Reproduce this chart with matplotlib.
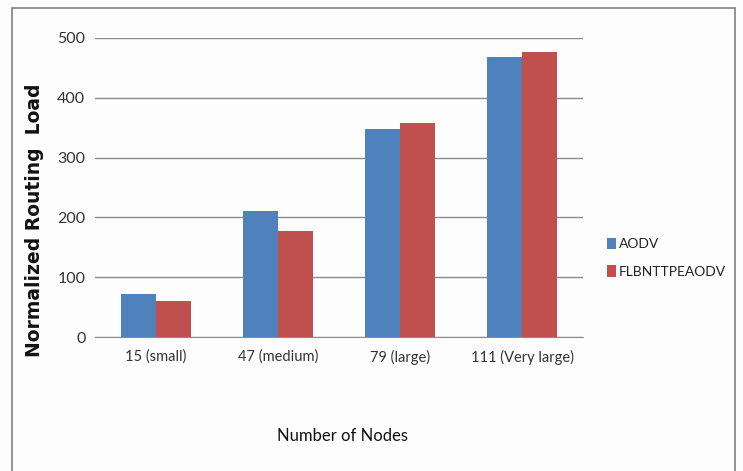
import matplotlib
matplotlib.use("Agg")
import matplotlib.pyplot as plt
import numpy as np

categories = ["15 (small)", "47 (medium)", "79 (large)", "111 (Very large)"]
aodv = [72, 210, 348, 468]
flb = [60, 178, 358, 477]
series_names = ["AODV", "FLBNTTPEAODV"]
yticks = [0, 100, 200, 300, 400, 500]

font = "Lato"

fig = plt.figure(figsize=(7.43, 4.71), dpi=100)
fig.patch.set_facecolor("#fdfdfd")
ax = fig.add_axes([0.128, 0.2845, 0.657, 0.635])
ax.set_facecolor("#fdfdfd")

x = np.arange(len(categories))
w = 1 / 3.5
ax.bar(x - w / 2, aodv, w, color="#4f81bd", label=series_names[0], zorder=3)
ax.bar(x + w / 2, flb, w, color="#c0504d", label=series_names[1], zorder=3)

ax.set_xlim(-0.5, len(categories) - 0.5)
ax.set_ylim(0, 500)
ax.set_yticks(yticks)
ax.set_yticklabels([str(v) for v in yticks], fontfamily=font, fontsize=11.5, color="#333333")
ax.set_xticks(x)
ax.set_xticklabels(categories, fontfamily=font, fontsize=10.5, color="#333333")
ax.tick_params(axis="y", length=0, pad=7)
ax.tick_params(axis="x", length=0, pad=9)
ax.grid(axis="y", color="#8c8c8c", linewidth=1.0, zorder=0)
for s in ["top", "right", "left"]:
    ax.spines[s].set_visible(False)
ax.spines["bottom"].set_color("#8c8c8c")

ax.set_xlabel("Number of Nodes", fontfamily=font, fontsize=12, color="#111111")
ax.xaxis.set_label_coords(0.507, -0.305)
ax.set_ylabel("Normalized Routing  Load", fontfamily="DejaVu Sans", fontweight="bold",
              fontsize=13.5, color="#111111")
ax.yaxis.set_label_coords(-0.105, 0.39)

leg = ax.legend(loc="center left", bbox_to_anchor=(1.038, 0.265), frameon=False,
                prop={"family": font, "size": 10}, handlelength=0.6, handleheight=0.9,
                handletextpad=0.25, labelspacing=1.1, borderaxespad=0)
for t in leg.get_texts():
    t.set_color("#222222")

# outer chart border
border = plt.Rectangle((12 / 743, -0.05), (735 - 12) / 743, 1.05 - 8 / 471,
                       transform=fig.transFigure, fill=False, edgecolor="#8a8a8a",
                       linewidth=1.3, zorder=10)
fig.patches.append(border)

fig.savefig("out.png", dpi=100, facecolor=fig.get_facecolor())
